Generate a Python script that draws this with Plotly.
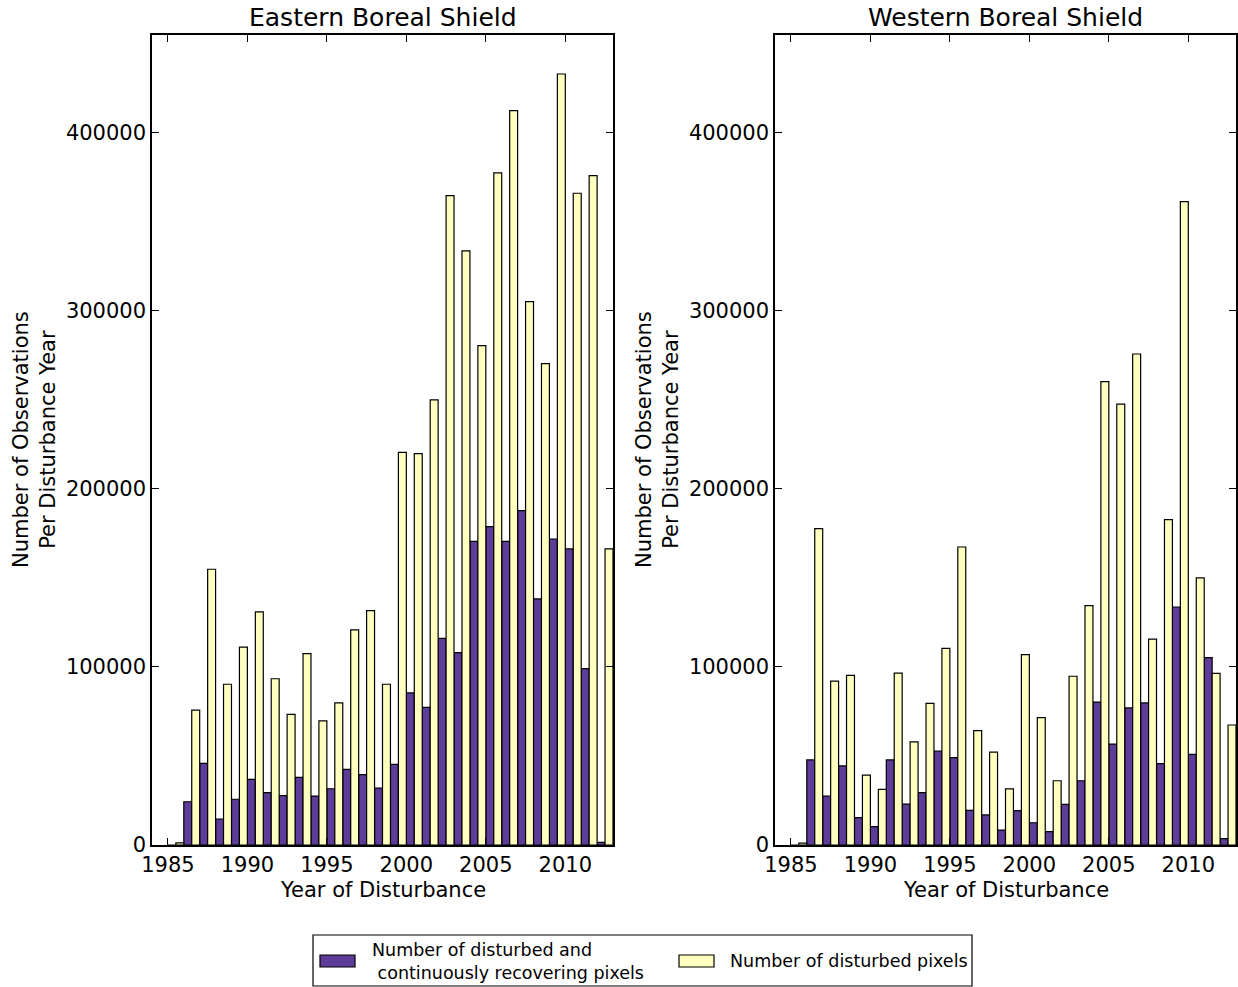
import plotly.graph_objects as go

# Disturbance years (each pair of bars starts at its year)
years = list(range(1985, 2013))

# Eastern Boreal Shield
east_recovering = [0, 24300, 45900, 14600, 25700, 36900, 29400, 27700, 38000, 27500,
                   31600, 42500, 39500, 32000, 45300, 85400, 77300, 116100, 108100, 170600,
                   178800, 170600, 187800, 138200, 171900, 166300, 99100, 1500]
east_disturbed = [1200, 75800, 154900, 90300, 111200, 130900, 93400, 73400, 107500, 69700,
                  79800, 120800, 131600, 90300, 220600, 219900, 250000, 364800, 333700, 280500,
                  377500, 412500, 305200, 270400, 433100, 366100, 376000, 166300]

# Western Boreal Shield
west_recovering = [0, 47800, 27500, 44400, 15400, 10300, 47800, 23000, 29400, 52800,
                   49100, 19500, 16900, 8400, 19300, 12500, 7500, 22800, 36100, 80300,
                   56700, 77000, 79800, 45700, 133700, 50900, 105200, 3600]
west_disturbed = [1000, 177700, 92100, 95300, 39300, 31300, 96600, 57900, 79600, 110500,
                  167400, 64200, 52200, 31500, 106900, 71500, 36100, 94800, 134500, 260300,
                  247600, 275800, 115700, 182800, 361400, 150000, 96400, 67400]

panel_titles = ["Eastern Boreal Shield", "Western Boreal Shield"]
x_ticks = [1985, 1990, 1995, 2000, 2005, 2010]
y_ticks = [0, 100000, 200000, 300000, 400000]

label_recovering = "Number of disturbed and<br> continuously recovering pixels"
label_disturbed = "Number of disturbed pixels"

PURPLE = "#5e3c99"
YELLOW = "#ffffbf"
FONT = "DejaVu Sans"

W, H = 1238, 987
fig = go.Figure()

panels = [
    (east_recovering, east_disturbed, "x", "y"),
    (west_recovering, west_disturbed, "x2", "y2"),
]
for rec, dist, xa, ya in panels:
    fig.add_trace(go.Bar(
        x=years, y=rec, width=0.5, offset=0, xaxis=xa, yaxis=ya,
        marker=dict(color=PURPLE, line=dict(color="black", width=1.2)),
        name=label_recovering, showlegend=False,
    ))
    fig.add_trace(go.Bar(
        x=years, y=dist, width=0.5, offset=0.5, xaxis=xa, yaxis=ya,
        marker=dict(color=YELLOW, line=dict(color="black", width=1.2)),
        name=label_disturbed, showlegend=False,
    ))

# plot areas in pixels
left_dom = (152, 613)
right_dom = (775, 1236)
top_px, bottom_px = 35, 845


def px_x(v):
    return v / W


def px_y(v):
    return 1 - v / H


ydom = [px_y(bottom_px), px_y(top_px)]

axis_common = dict(
    showline=True, linecolor="black", linewidth=1.5, mirror="ticks",
    ticks="inside", ticklen=7, tickwidth=1.2, tickcolor="black",
    showgrid=False, zeroline=False, automargin=False,
    tickfont=dict(family=FONT, size=21, color="black"),
)
x_axis_extra = dict(range=[1984, 2013], tickvals=x_ticks)
y_axis_extra = dict(domain=ydom, range=[0, 455000], tickvals=y_ticks, tickformat="d")

fig.update_layout(
    template="none",
    width=W, height=H,
    margin=dict(l=0, r=0, t=0, b=0, pad=0),
    paper_bgcolor="white", plot_bgcolor="white",
    barmode="overlay",
    showlegend=False,
    font=dict(family=FONT, color="black"),
    xaxis=dict(domain=[px_x(left_dom[0]), px_x(left_dom[1])], anchor="y",
               **x_axis_extra, **axis_common),
    yaxis=dict(anchor="x", **y_axis_extra, **axis_common),
    xaxis2=dict(domain=[px_x(right_dom[0]), px_x(right_dom[1])], anchor="y2",
                **x_axis_extra, **axis_common),
    yaxis2=dict(anchor="x2", **y_axis_extra, **axis_common),
)

annotations = []
for title, dom in zip(panel_titles, [left_dom, right_dom]):
    cx = px_x((dom[0] + dom[1]) / 2)
    annotations.append(dict(
        text=title, x=cx, y=px_y(18), xref="paper", yref="paper",
        xanchor="center", yanchor="middle", showarrow=False,
        font=dict(family=FONT, size=25, color="black"),
    ))
    annotations.append(dict(
        text="Year of Disturbance", x=cx, y=px_y(890), xref="paper", yref="paper",
        xanchor="center", yanchor="middle", showarrow=False,
        font=dict(family=FONT, size=21, color="black"),
    ))
for cxp in [34, 657]:
    annotations.append(dict(
        text="Number of Observations<br>Per Disturbance Year",
        x=px_x(cxp), y=px_y(440), xref="paper", yref="paper",
        xanchor="center", yanchor="middle", showarrow=False, textangle=-90,
        font=dict(family=FONT, size=21, color="black"),
    ))

# legend box below the panels
shapes = [dict(type="rect", xref="paper", yref="paper",
               x0=px_x(313), x1=px_x(972), y0=px_y(986), y1=px_y(935),
               line=dict(color="black", width=1.2), fillcolor="white", layer="above")]
legend_items = [
    (PURPLE, label_recovering, 320, 370),
    (YELLOW, label_disturbed, 679, 728),
]
for color, text, patch_x, text_x in legend_items:
    shapes.append(dict(type="rect", xref="paper", yref="paper",
                       x0=px_x(patch_x), x1=px_x(patch_x + 35),
                       y0=px_y(967), y1=px_y(955),
                       line=dict(color="black", width=1.2), fillcolor=color,
                       layer="above"))
    annotations.append(dict(
        text=text, x=px_x(text_x), y=px_y(961), xref="paper", yref="paper",
        xanchor="left", yanchor="middle", align="left", showarrow=False,
        font=dict(family=FONT, size=17.5, color="black"),
    ))

fig.update_layout(annotations=annotations, shapes=shapes)

fig.write_html("out.html")
